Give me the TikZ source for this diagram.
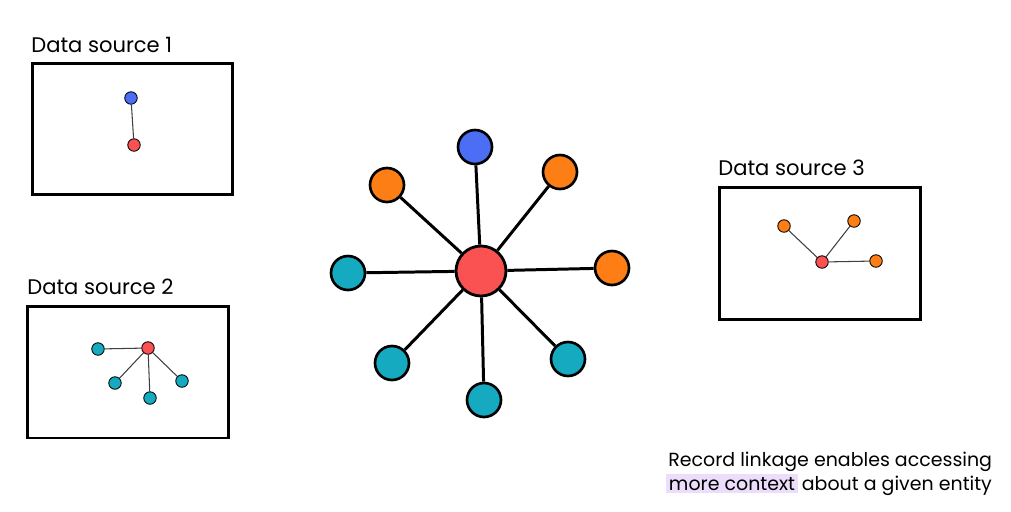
\documentclass[tikz,border=0pt]{standalone}
\usepackage{fontspec}
\setmainfont{Poppins}
\usetikzlibrary{positioning}
\definecolor{exred}{HTML}{FA5252}
\definecolor{exblue}{HTML}{4C6EF5}
\definecolor{exorange}{HTML}{FD7E14}
\definecolor{excyan}{HTML}{15AABF}
\definecolor{exlilac}{HTML}{EBDDFB}
\begin{document}
\begin{tikzpicture}[x=0.02cm,y=-0.02cm,
    hub/.style={draw,circle,line width=1.6pt,fill=exred,minimum size=1cm,inner sep=0pt},
    big/.style={draw,circle,line width=1.5pt,minimum size=0.68cm,inner sep=0pt},
    small/.style={draw,circle,line width=0.5pt,minimum size=0.25cm,inner sep=0pt},
    srcbox/.style={draw,line width=1.7pt,minimum width=4.02cm,minimum height=2.64cm,inner sep=0pt},
    label/.style={anchor=base west,font=\large,inner sep=0pt},
    caption/.style={anchor=base west,font=\fontsize{10.8}{13}\selectfont,inner sep=0pt},
    link/.style={line width=1.7pt},
    thin/.style={line width=0.6pt,draw=black!75}]
\useasboundingbox (0,0) rectangle (1011,511);
% data source boxes
\node[srcbox](b1) at (132.5,129){};
\node[srcbox](b2) at (128,372){};
\node[srcbox](b3) at (820,253.5){};
\node[label](l1) at (31,52){Data source 1};
\node[label](l2) at (27,294){Data source 2};
\node[label](l3) at (718,175){Data source 3};
% source 1
\node[small,fill=exblue](s1a) at (131,98){};
\node[small,fill=exred](s1b) at (134,145){};
\draw[thin](s1a) -- (s1b);
% source 2
\node[small,fill=exred](s2c) at (148,348){};
\node[small,fill=excyan](s2a) at (98,349){};
\node[small,fill=excyan](s2b) at (115,383){};
\node[small,fill=excyan](s2d) at (150,398){};
\node[small,fill=excyan](s2e) at (182,381){};
\draw[thin](s2c) -- (s2a);
\draw[thin](s2c) -- (s2b);
\draw[thin](s2c) -- (s2d);
\draw[thin](s2c) -- (s2e);
% source 3
\node[small,fill=exred](s3c) at (822,262){};
\node[small,fill=exorange](s3a) at (784,226){};
\node[small,fill=exorange](s3b) at (854,221){};
\node[small,fill=exorange](s3d) at (876,261){};
\draw[thin](s3c) -- (s3a);
\draw[thin](s3c) -- (s3b);
\draw[thin](s3c) -- (s3d);
% linked entity
\node[hub](h) at (481,271){};
\node[big,fill=exblue](n1) at (475,147){};
\node[big,fill=exorange](n2) at (560,172){};
\node[big,fill=exorange](n3) at (612,268){};
\node[big,fill=excyan](n4) at (568,359){};
\node[big,fill=excyan](n5) at (484,400){};
\node[big,fill=excyan](n6) at (392,363){};
\node[big,fill=excyan](n7) at (348,273){};
\node[big,fill=exorange](n8) at (387,185){};
\foreach \n in {n1,n2,n3,n4,n5,n6,n7,n8}
    \draw[link](h) -- (\n);
% caption
\node[caption](t1) at (668,466){Record linkage enables accessing};
\node[caption,fill=exlilac,inner sep=1.5pt](t2) at (666,490){more context};
\node[caption](t3) [right=2pt of t2.base east,anchor=base west]{about a given entity};
\end{tikzpicture}
\end{document}
